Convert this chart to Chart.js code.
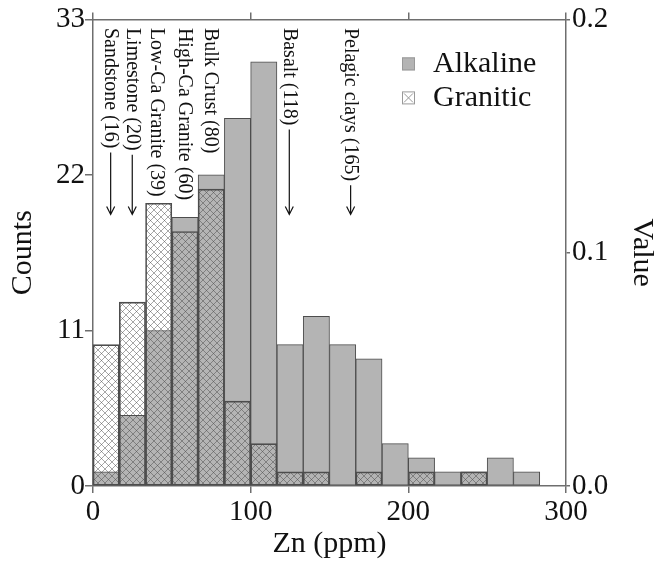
<!DOCTYPE html>
<html>
<head>
<meta charset="utf-8">
<script src="https://cdn.jsdelivr.net/npm/chart.js@4.4.1/dist/chart.umd.min.js"></script>
<style>
    html, body { margin: 0; padding: 0; background: #fff; }
    #wrap { width: 658px; height: 563px; position: relative; }
</style>
</head>
<body>
<div id="wrap"><canvas id="znChart"></canvas></div>
<script>
// --- data ---
const binWidth = 100 / 6; // ppm per bin
const binCount = 17;
const alkaline = [1, 5, 11, 19, 22, 26, 30, 10, 12, 10, 9, 3, 2, 1, 1, 2, 1];
const granitic = [10, 13, 20, 18, 21, 6, 3, 1, 1, 0, 1, 0, 1, 0, 1, 0, 0];
const xTicks = [0, 100, 200, 300];
const countTicks = [0, 11, 22, 33];
const valueTicks = [0.0, 0.1, 0.2];

// reference rocks: label, x position (ppm), arrow or not
const refLabels = ['Sandstone (16)', 'Limestone (20)', 'Low-Ca Granite (39)', 'High-Ca Granite (60)', 'Bulk Crust (80)', 'Basalt (118)', 'Pelagic clays (165)'];
const refPos = [11.2, 24.9, 39.8, 57.7, 74.6, 124.5, 163.4];
const refArrow = [true, true, false, false, false, true, true];
const labelTop = 32.4;   // counts
const arrowTip = 19.2;   // counts

const binCenters = Array.from({ length: binCount }, (_, i) => i * binWidth + binWidth / 2);

const serif = '"Liberation Serif", "Times New Roman", serif';
const grey = '#b4b4b4';
const edge = '#4d4d4d';
const axisColor = '#6e6e6e';

function makeHatch() {
    const c = document.createElement('canvas');
    c.width = 7; c.height = 7;
    const g = c.getContext('2d');
    g.strokeStyle = 'rgba(70,70,70,0.6)';
    g.lineWidth = 0.8;
    g.beginPath();
    g.moveTo(0, 0); g.lineTo(7, 7);
    g.moveTo(7, 0); g.lineTo(0, 7);
    g.stroke();
    return g.createPattern(c, 'repeat');
}
const hatch = makeHatch();

// rotated rock labels with arrows
const refPlugin = {
    id: 'refLabels',
    afterDatasetsDraw(chart) {
        const { ctx, scales: { x, y } } = chart;
        ctx.save();
        ctx.font = '20px ' + serif;
        ctx.fillStyle = '#111';
        ctx.strokeStyle = '#111';
        ctx.lineWidth = 1.2;
        refLabels.forEach((txt, i) => {
            const px = x.getPixelForValue(refPos[i]);
            const top = y.getPixelForValue(labelTop);
            ctx.save();
            ctx.translate(px, top);
            ctx.rotate(Math.PI / 2);
            ctx.textAlign = 'left';
            ctx.textBaseline = 'middle';
            ctx.fillText(txt, 0, 0);
            const w = ctx.measureText(txt).width;
            ctx.restore();
            if (refArrow[i]) {
                const tip = y.getPixelForValue(arrowTip);
                ctx.beginPath();
                ctx.moveTo(px, top + w + 4);
                ctx.lineTo(px, tip);
                ctx.moveTo(px - 4, tip - 8);
                ctx.lineTo(px, tip);
                ctx.lineTo(px + 4, tip - 8);
                ctx.stroke();
            }
        });
        ctx.restore();
    }
};

// legend inside the plot
const legendPlugin = {
    id: 'boxLegend',
    afterDraw(chart) {
        const { ctx, chartArea } = chart;
        const lx = chartArea.left + 309;
        const ly = chartArea.top + 38;
        ctx.save();
        ctx.fillStyle = grey;
        ctx.fillRect(lx, ly, 13, 13);
        ctx.strokeStyle = '#999';
        ctx.lineWidth = 1;
        ctx.strokeRect(lx + 0.5, ly + 0.5, 12, 12);
        const gy = ly + 34;
        ctx.fillStyle = '#fff';
        ctx.fillRect(lx, gy, 13, 13);
        ctx.strokeRect(lx + 0.5, gy + 0.5, 12, 12);
        ctx.beginPath();
        ctx.moveTo(lx + 2, gy + 2); ctx.lineTo(lx + 11, gy + 11);
        ctx.moveTo(lx + 11, gy + 2); ctx.lineTo(lx + 2, gy + 11);
        ctx.stroke();
        ctx.font = '30px ' + serif;
        ctx.fillStyle = '#111';
        ctx.textBaseline = 'middle';
        ctx.fillText('Alkaline', lx + 31, ly + 7);
        ctx.fillText('Granitic', lx + 31, gy + 7);
        ctx.restore();
    }
};

const tickFont = { family: serif, size: 29 };
const titleFont = { family: serif, size: 30, lineHeight: 1 };

new Chart(document.getElementById('znChart'), {
    type: 'bar',
    data: {
        datasets: [
            {
                label: 'Alkaline',
                data: binCenters.map((c, i) => ({ x: c, y: alkaline[i] })),
                backgroundColor: grey,
                borderColor: edge,
                borderWidth: 1,
                order: 1
            },
            {
                label: 'Granitic',
                data: binCenters.map((c, i) => ({ x: c, y: granitic[i] })),
                backgroundColor: hatch,
                borderColor: edge,
                borderWidth: 1,
                order: 0
            }
        ]
    },
    options: {
        responsive: true,
        maintainAspectRatio: false,
        animation: false,
        layout: { padding: 0 },
        datasets: {
            bar: { grouped: false, barPercentage: 1, categoryPercentage: 1, borderSkipped: false }
        },
        plugins: {
            legend: { display: false },
            tooltip: { enabled: false }
        },
        scales: {
            x: {
                type: 'linear',
                position: 'bottom',
                offset: false,
                min: 0, max: 300,
                afterBuildTicks: s => { s.ticks = xTicks.map(v => ({ value: v })); },
                afterFit: s => { s.height = 77; },
                grid: { display: true, drawOnChartArea: false, offset: false, tickLength: 7, color: axisColor, lineWidth: 1.5 },
                border: { color: axisColor, width: 1.5 },
                ticks: { font: tickFont, color: '#111', padding: 2, maxRotation: 0 },
                title: { display: true, text: 'Zn (ppm)', font: titleFont, color: '#111', padding: { bottom: 4 } }
            },
            x2: {
                type: 'linear',
                position: 'top',
                display: true,
                offset: false,
                min: 0, max: 300,
                afterBuildTicks: s => { s.ticks = xTicks.map(v => ({ value: v })); },
                afterFit: s => { s.height = 15; },
                grid: { display: true, drawOnChartArea: false, offset: false, tickLength: 7, color: axisColor, lineWidth: 1.5 },
                border: { color: axisColor, width: 1.5 },
                ticks: { display: false }
            },
            y: {
                position: 'left',
                min: 0, max: 33,
                afterBuildTicks: s => { s.ticks = countTicks.map(v => ({ value: v })); },
                afterFit: s => { s.width = 93; },
                grid: { display: true, drawOnChartArea: false, tickLength: 8, color: axisColor, lineWidth: 1.5 },
                border: { color: axisColor, width: 1.5 },
                ticks: { font: tickFont, color: '#111', padding: 0 },
                title: { display: true, text: 'Counts', font: titleFont, color: '#111', padding: { top: 8 } }
            },
            y2: {
                position: 'right',
                display: true,
                min: 0, max: 0.2,
                afterBuildTicks: s => { s.ticks = valueTicks.map(v => ({ value: v })); },
                afterFit: s => { s.width = 92; },
                grid: { display: true, drawOnChartArea: false, tickLength: 4, color: axisColor, lineWidth: 1.5 },
                border: { color: axisColor, width: 1.5 },
                ticks: { font: tickFont, color: '#111', padding: 2, callback: v => v.toFixed(1) },
                title: { display: true, text: 'Value', font: titleFont, color: '#111', padding: { top: 1 } }
            }
        }
    },
    plugins: [refPlugin, legendPlugin]
});
</script>
</body>
</html>
